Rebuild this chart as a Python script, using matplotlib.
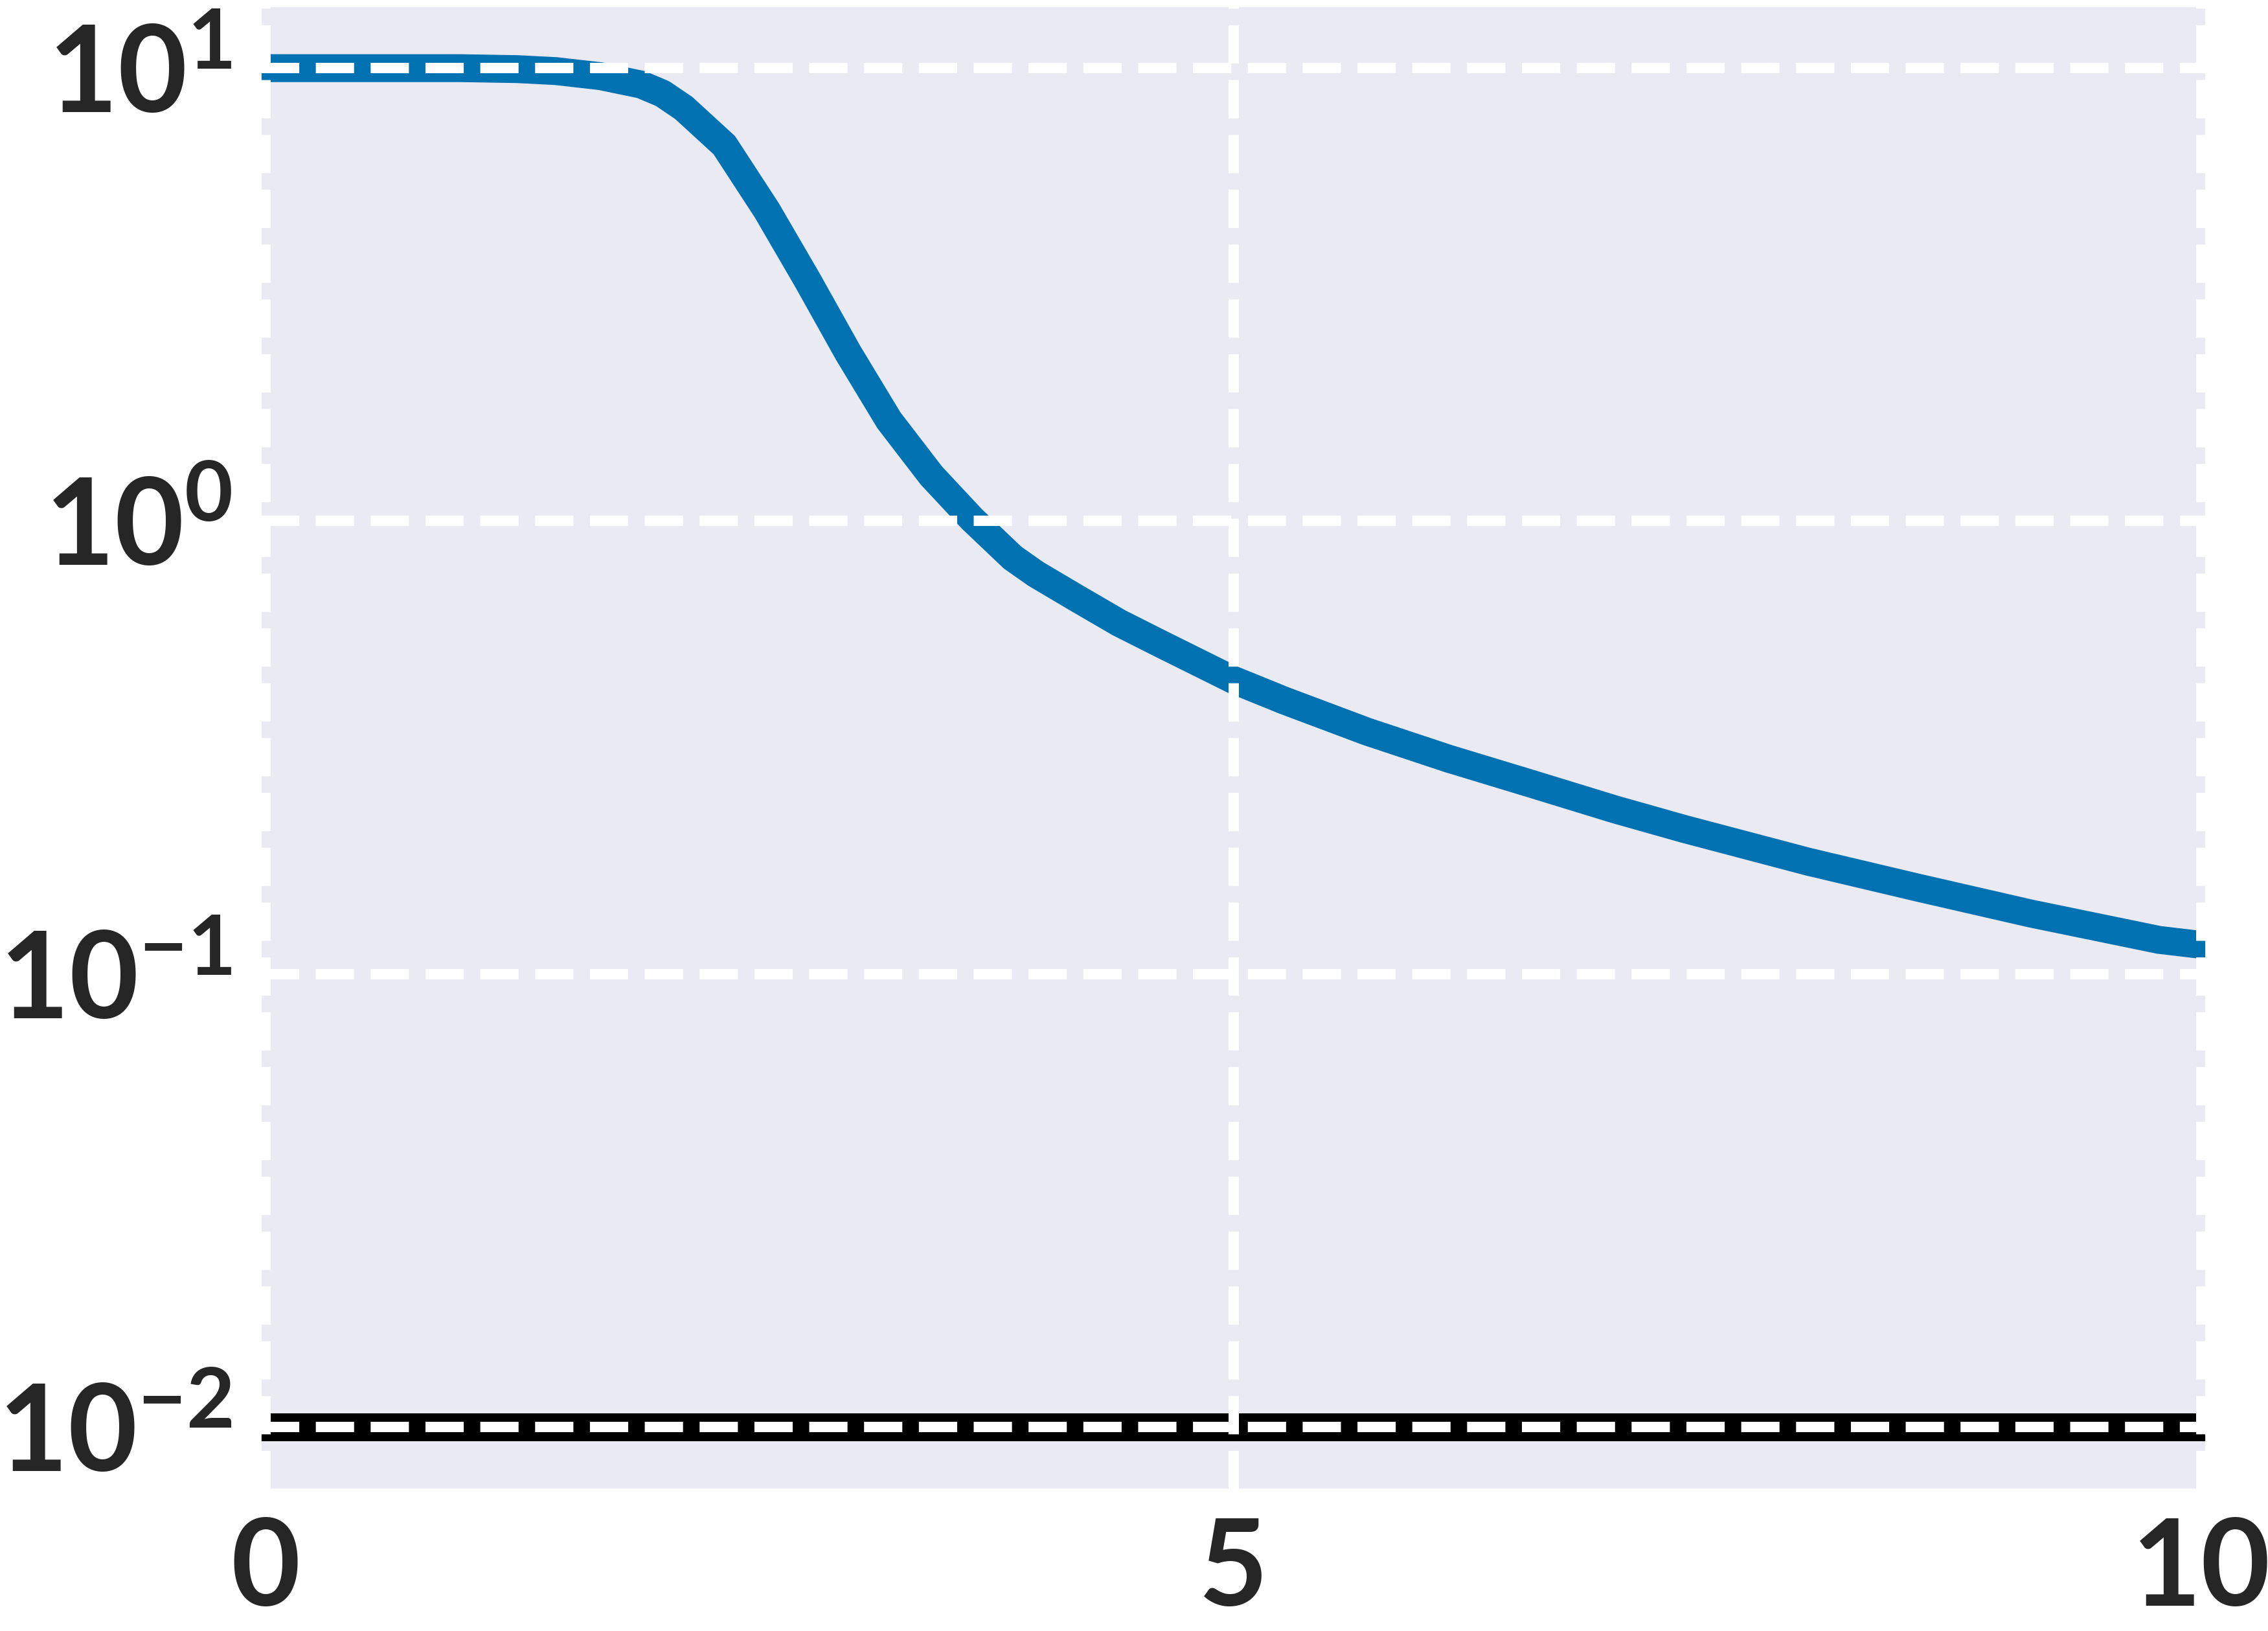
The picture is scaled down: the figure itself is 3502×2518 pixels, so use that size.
import matplotlib
matplotlib.use("Agg")
import matplotlib.pyplot as plt
import seaborn as sns

# curve (x, y on a log axis)
x_vals = [0.0, 0.5, 1.0, 1.30, 1.50, 1.73, 1.94, 2.05, 2.16, 2.37, 2.59, 2.80,
          3.01, 3.22, 3.44, 3.65, 3.86, 3.98, 4.19, 4.41, 4.62, 5.0, 5.26,
          5.69, 6.11, 6.54, 6.97, 7.33, 7.97, 8.54, 9.12, 9.78, 10.0]
y_vals = [10.0, 10.0, 10.0, 9.95, 9.85, 9.6, 9.2, 8.79, 8.17, 6.76, 4.85, 3.40,
          2.35, 1.67, 1.26, 1.01, 0.83, 0.764, 0.676, 0.596, 0.537, 0.446,
          0.402, 0.343, 0.299, 0.263, 0.231, 0.209, 0.177, 0.155, 0.136,
          0.119, 0.116]
floor_level = 0.01

x_ticks = [0, 5, 10]
y_ticks = [1e-2, 1e-1, 1e0, 1e1]

sns.set_theme(style="darkgrid")
plt.rcParams['font.family'] = ['Lato', 'DejaVu Sans']
plt.rcParams['font.weight'] = 'bold'
plt.rcParams['mathtext.fontset'] = 'custom'
plt.rcParams['mathtext.rm'] = 'Lato:bold'
plt.rcParams['mathtext.default'] = 'regular'

fig = plt.figure(figsize=(35.02, 25.18), dpi=100)
ax = fig.add_axes([0.1151, 0.087, 0.8575, 0.909])

ax.plot(x_vals, y_vals, color="#0072B2", linewidth=31)
ax.axhline(floor_level, color="black", linewidth=31)

ax.set_yscale("log")
ax.set_xlim(-0.023, 10.023)
ax.set_ylim(10 ** -2.137, 10 ** 1.136)
ax.set_xticks(x_ticks)
ax.set_yticks(y_ticks)
ax.minorticks_off()
ax.set_axisbelow(False)
ax.grid(True, which="major", color="white", linestyle="--", linewidth=11.5)
ax.tick_params(axis="both", labelsize=133, length=0, labelcolor="#262626")
ax.tick_params(axis="y", pad=32)
ax.tick_params(axis="x", pad=30)

fig.savefig("out.png", dpi=100)
